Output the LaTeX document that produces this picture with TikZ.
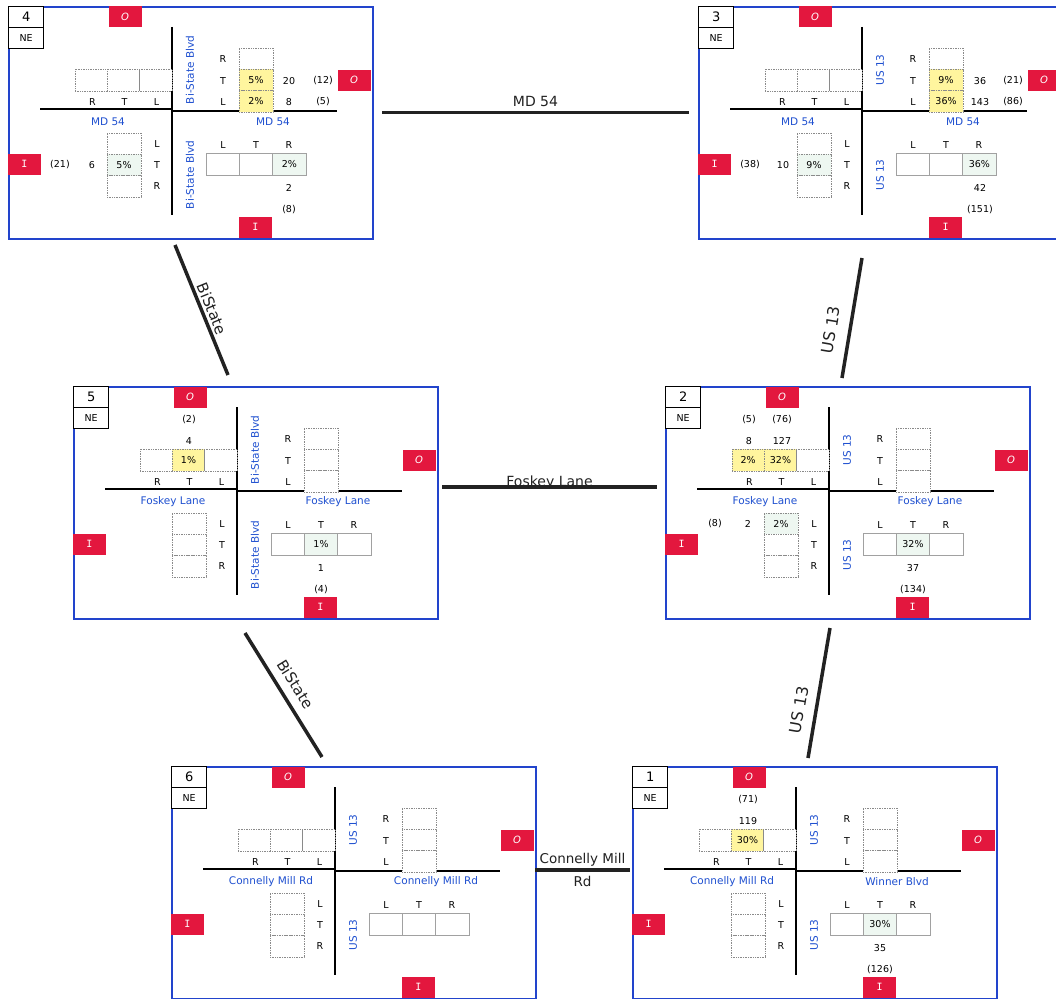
\documentclass[tikz,border=0pt]{standalone}
\usepackage{fontspec}
\setmainfont{DejaVu Sans}
\newfontfamily\monof{DejaVu Sans Mono}
\definecolor{bordblue}{HTML}{2244CC}
\definecolor{roadblue}{HTML}{1F50D0}
\definecolor{redbox}{HTML}{E3173E}
\definecolor{yelhl}{HTML}{FFF59E}
\definecolor{minthl}{HTML}{EEF7F1}
\definecolor{cellgray}{HTML}{8A8A8A}
\definecolor{connblack}{HTML}{222222}

\tikzset{
  frame/.style={draw=bordblue, line width=2pt, fill=white, inner sep=0pt},
  numbox/.style={draw=black, line width=1.3pt, fill=white, minimum width=35pt, minimum height=21pt, inner sep=0pt, font=\fontsize{13}{13}\selectfont},
  nebox/.style={numbox, font=\fontsize{9.5}{10}\selectfont},
  redO/.style={fill=redbox, text=white, minimum width=33pt, minimum height=21pt, inner sep=0pt, font=\fontsize{10}{10}\selectfont\itshape},
  redI/.style={redO, font=\monof\fontsize{10}{10}\selectfont},
  road/.style={line width=2pt, black},
  roadname/.style={text=roadblue, font=\fontsize{10.5}{11}\selectfont, inner sep=0pt},
  vroadname/.style={roadname, rotate=90},
  dirlab/.style={font=\fontsize{9.5}{10}\selectfont, inner sep=0pt},
  numlab/.style={font=\fontsize{9.5}{10}\selectfont, inner sep=0pt},
  cellA/.style={draw=cellgray, densely dotted, line width=0.7pt, inner sep=0pt, font=\fontsize{9.5}{10}\selectfont},
  cellB/.style={draw=cellgray!80, line width=0.6pt, inner sep=0pt, font=\fontsize{9.5}{10}\selectfont},
  conn/.style={line width=3.5pt, connblack},
  connlab/.style={font=\fontsize{14}{14}\selectfont, text=connblack},
}

\newcommand\putcell[3]{\expandafter\gdef\csname cf#1\endcsname{#2}\expandafter\gdef\csname cv#1\endcsname{#3}}
\newcommand\resetcells{\foreach \c in {a1,a2,a3,b1,b2,b3,c1,c2,c3,d1,d2,d3}{%
  \expandafter\xdef\csname cf\c\endcsname{white}\expandafter\gdef\csname cv\c\endcsname{}}}
\newcommand\mkcell[7]{\edef\tmpfill{\csname cf#2\endcsname}%
  \node[#3, fill=\tmpfill, minimum width=#6pt, minimum height=#7pt] (#1#2) at (#4,#5) {\csname cv#2\endcsname};}

% #1 prefix, #2 x, #3 y, #4 number, #5 left road, #6 right road, #7 vertical road, #8 extras
\newcommand\drawpanel[8]{%
\begin{scope}[shift={(#2,#3)}]
  \node[frame, minimum width=364pt, minimum height=232pt, anchor=north west] (#1fr) at (0,0) {};
  \node[numbox, anchor=north west] (#1num) at (0,0) {#4};
  \node[nebox, anchor=north west] (#1ne) at (0,21) {NE};
  \node[redO] (#1oT) at (117,11) {O};
  \node[redO] (#1oR) at (346,74) {O};
  \node[redI] (#1iL) at (16.5,158) {I};
  \node[redI] (#1iB) at (247.5,221) {I};
  \draw[road] (32,102.5) -- (164,102.5);
  \draw[road] (165,104.5) -- (329,104.5);
  \draw[road] (164,21) -- (164,209);
  \node[roadname] (#1rl) at (100,116) {#5};
  \node[roadname] (#1rr) at (265,116) {#6};
  \node[vroadname] (#1vu) at (182,64) {#7};
  \node[vroadname] (#1vd) at (182,169) {#7};
  % upper-left row
  \mkcell{#1}{a1}{cellA}{83.2}{74}{32.3}{22}
  \mkcell{#1}{a2}{cellA}{115.5}{74}{32.3}{22}
  \mkcell{#1}{a3}{cellA}{147.8}{74}{32.3}{22}
  \node[dirlab] (#1la1) at (84.5,96.5) {R};
  \node[dirlab] (#1la2) at (116.5,96.5) {T};
  \node[dirlab] (#1la3) at (148.5,96.5) {L};
  % upper-right column
  \mkcell{#1}{b1}{cellA}{248}{52.7}{34}{21.3}
  \mkcell{#1}{b2}{cellA}{248}{74}{34}{21.3}
  \mkcell{#1}{b3}{cellA}{248}{95.3}{34}{21.3}
  \node[dirlab] (#1lb1) at (215,53) {R};
  \node[dirlab] (#1lb2) at (215,75) {T};
  \node[dirlab] (#1lb3) at (215,96) {L};
  % lower-left column
  \mkcell{#1}{c1}{cellA}{116}{137.7}{34}{21.3}
  \mkcell{#1}{c2}{cellA}{116}{159}{34}{21.3}
  \mkcell{#1}{c3}{cellA}{116}{180.3}{34}{21.3}
  \node[dirlab] (#1lc1) at (149,138) {L};
  \node[dirlab] (#1lc2) at (149,159) {T};
  \node[dirlab] (#1lc3) at (149,180) {R};
  % lower-right row
  \mkcell{#1}{d1}{cellB}{214.7}{158}{33.3}{22}
  \mkcell{#1}{d2}{cellB}{248}{158}{33.3}{22}
  \mkcell{#1}{d3}{cellB}{281.3}{158}{33.3}{22}
  \node[dirlab] (#1ld1) at (215,139) {L};
  \node[dirlab] (#1ld2) at (248,139) {T};
  \node[dirlab] (#1ld3) at (281,139) {R};
  #8
\end{scope}}

\begin{document}
\begin{tikzpicture}[x=1pt,y=-1pt]
\useasboundingbox[fill=white] (0,0) rectangle (1056,998);

% Panel 4
\resetcells
\putcell{b2}{yelhl}{5\%}\putcell{b3}{yelhl}{2\%}\putcell{c2}{minthl}{5\%}\putcell{d3}{minthl}{2\%}
\drawpanel{pF}{8}{6}{4}{MD 54}{MD 54}{Bi-State Blvd}{%
  \node[numlab] (pFn1) at (281,75) {20};
  \node[numlab] (pFn2) at (315,75) {(12)};
  \node[numlab] (pFn3) at (281,96) {8};
  \node[numlab] (pFn4) at (315,96) {(5)};
  \node[numlab] (pFn5) at (84,159) {6};
  \node[numlab] (pFn6) at (52,159) {(21)};
  \node[numlab] (pFn7) at (281,182) {2};
  \node[numlab] (pFn8) at (281,204) {(8)};}

% Panel 3
\resetcells
\putcell{b2}{yelhl}{9\%}\putcell{b3}{yelhl}{36\%}\putcell{c2}{minthl}{9\%}\putcell{d3}{minthl}{36\%}
\drawpanel{pC}{698}{6}{3}{MD 54}{MD 54}{US 13}{%
  \node[numlab] (pCn1) at (282,75) {36};
  \node[numlab] (pCn2) at (315,75) {(21)};
  \node[numlab] (pCn3) at (282,96) {143};
  \node[numlab] (pCn4) at (315,96) {(86)};
  \node[numlab] (pCn5) at (85,159) {10};
  \node[numlab] (pCn6) at (52,159) {(38)};
  \node[numlab] (pCn7) at (282,182) {42};
  \node[numlab] (pCn8) at (282,204) {(151)};}

% Panel 5
\resetcells
\putcell{a2}{yelhl}{1\%}\putcell{d2}{minthl}{1\%}
\drawpanel{pE}{73}{386}{5}{Foskey Lane}{Foskey Lane}{Bi-State Blvd}{%
  \node[numlab] (pEn1) at (116,55) {4};
  \node[numlab] (pEn2) at (116,34) {(2)};
  \node[numlab] (pEn3) at (248,182) {1};
  \node[numlab] (pEn4) at (248,204) {(4)};}

% Panel 2
\resetcells
\putcell{a1}{yelhl}{2\%}\putcell{a2}{yelhl}{32\%}\putcell{c1}{minthl}{2\%}\putcell{d2}{minthl}{32\%}
\drawpanel{pB}{665}{386}{2}{Foskey Lane}{Foskey Lane}{US 13}{%
  \node[numlab] (pBn1) at (84,55) {8};
  \node[numlab] (pBn2) at (84,34) {(5)};
  \node[numlab] (pBn3) at (117,55) {127};
  \node[numlab] (pBn4) at (117,34) {(76)};
  \node[numlab] (pBn5) at (83,138) {2};
  \node[numlab] (pBn6) at (50,138) {(8)};
  \node[numlab] (pBn7) at (248,182) {37};
  \node[numlab] (pBn8) at (248,204) {(134)};}

% Panel 6
\resetcells
\drawpanel{pG}{171}{766}{6}{Connelly Mill Rd}{Connelly Mill Rd}{US 13}{}

% Panel 1
\resetcells
\putcell{a2}{yelhl}{30\%}\putcell{d2}{minthl}{30\%}
\drawpanel{pA}{632}{766}{1}{Connelly Mill Rd}{Winner Blvd}{US 13}{%
  \node[numlab] (pAn1) at (116,55) {119};
  \node[numlab] (pAn2) at (116,34) {(71)};
  \node[numlab] (pAn3) at (248,182) {35};
  \node[numlab] (pAn4) at (248,204) {(126)};}

% connectors
\coordinate (mdA) at (382,112.7);
\coordinate (mdB) at (689,112.7);
\coordinate (bsA) at (175,245);
\coordinate (bsB) at (228,375);
\coordinate (usA) at (842,378);
\coordinate (usB) at (862,258);
\coordinate (fkA) at (442,487);
\coordinate (fkB) at (657,487);
\coordinate (bsC) at (245,633);
\coordinate (bsD) at (322,757);
\coordinate (usC) at (808,758);
\coordinate (usD) at (830,628);
\coordinate (cmA) at (535,870);
\coordinate (cmB) at (630,870);

\draw[conn] (mdA) -- node[connlab, anchor=base, yshift=6.5pt, inner sep=0pt] (lmd) {MD 54} (mdB);
\draw[conn] (bsA) -- node[connlab, font=\fontsize{15}{15}\selectfont, sloped, above, pos=0.52, inner sep=3pt] (lbs1) {BiState} (bsB);
\draw[conn] (usA) -- node[connlab, font=\fontsize{16}{16}\selectfont, sloped, above, pos=0.375, inner sep=11pt] (lus1) {US 13} (usB);
\draw[conn] (fkA) -- node[connlab, anchor=base, yshift=1pt, inner sep=0pt] (lfk) {Foskey Lane} (fkB);
\draw[conn] (bsC) -- node[connlab, font=\fontsize{15}{15}\selectfont, sloped, above, pos=0.48, inner sep=8.5pt] (lbs2) {BiState} (bsD);
\draw[conn] (usC) -- node[connlab, font=\fontsize{16}{16}\selectfont, sloped, above, pos=0.35, inner sep=9pt] (lus2) {US 13} (usD);
\draw[conn] (cmA) -- node[connlab, font=\fontsize{13.5}{16.5}\selectfont, align=center, inner sep=0pt, yshift=0.5pt] (lcm) {Connelly Mill\\[6.5pt]Rd} (cmB);
\end{tikzpicture}
\end{document}
